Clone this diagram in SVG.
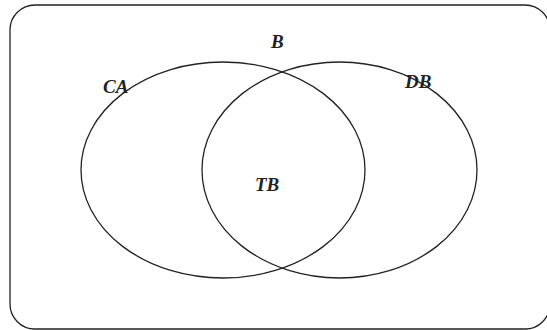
<svg xmlns="http://www.w3.org/2000/svg" width="547" height="330" viewBox="0 0 547 330">
<style>
.shape{fill:none;stroke:#222;stroke-width:1.3}
.lbl{font-family:"Liberation Serif","Times New Roman",serif;font-weight:bold;font-style:italic;font-size:19px;fill:#222}
</style>
<rect width="547" height="330" fill="#fff"/>
<g id="frame"><rect class="shape" x="10" y="5" width="540" height="324" rx="25" ry="25"/></g>
<g id="CA"><ellipse class="shape" cx="223" cy="170" rx="142" ry="108"/><text class="lbl" x="103" y="93">CA</text></g>
<g id="DB"><ellipse class="shape" cx="339.5" cy="170" rx="137.5" ry="108"/><text class="lbl" x="405" y="88">DB</text></g>
<g id="B"><text class="lbl" x="271" y="48">B</text></g>
<g id="TB"><text class="lbl" x="255" y="191">TB</text></g>
<g id="connectors"></g>
</svg>
